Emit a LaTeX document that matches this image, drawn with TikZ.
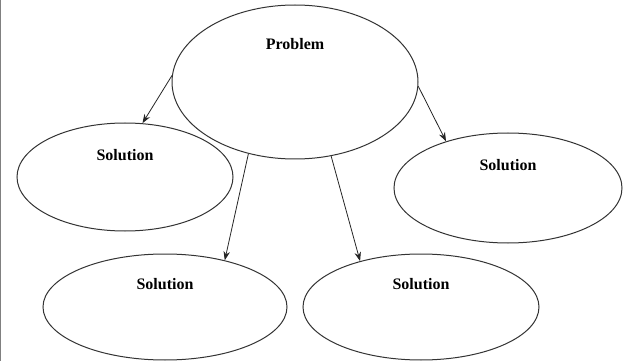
\documentclass[tikz,border=0pt]{standalone}
\usepackage{fontspec}
\setmainfont{Liberation Serif}
\usetikzlibrary{shapes.geometric,arrows.meta}
\begin{document}
\begin{tikzpicture}[x=1pt,y=-1pt,
  oval/.style={draw=black!80,line width=1pt,ellipse,inner sep=0pt},
  lbl/.style={font=\fontsize{16}{19}\selectfont\bfseries,inner sep=0pt},
  conn/.style={draw=black!85,line width=0.8pt,-{Stealth[length=9pt,width=6.5pt]}}]
\useasboundingbox (0,0) rectangle (625,361);
\fill[white] (0,0) rectangle (625,361);
\draw[gray,line width=1.2pt] (0.6,0) -- (0.6,361);
\node[oval,minimum width=246pt,minimum height=154pt] (p) at (295,82) {};
\node[oval,minimum width=216pt,minimum height=108pt] (s1) at (125,177) {};
\node[oval,minimum width=228pt,minimum height=110pt] (s2) at (508,188) {};
\node[oval,minimum width=244pt,minimum height=106pt] (s3) at (165,307) {};
\node[oval,minimum width=236pt,minimum height=106pt] (s4) at (421,307) {};
\node[lbl] (tp) at (295,44) {Problem};
\node[lbl] (t1) at (125,155) {Solution};
\node[lbl] (t2) at (508,165) {Solution};
\node[lbl] (t3) at (165,284) {Solution};
\node[lbl] (t4) at (421,284) {Solution};
\draw[conn] (p.177.7) -- (s1.72.5);
\draw[conn] (p.237.6) -- (s3.38.3);
\draw[conn] (p.296) -- (s4.143.4);
\draw[conn] (p.358.6) -- (s2.143.6);
\end{tikzpicture}
\end{document}
